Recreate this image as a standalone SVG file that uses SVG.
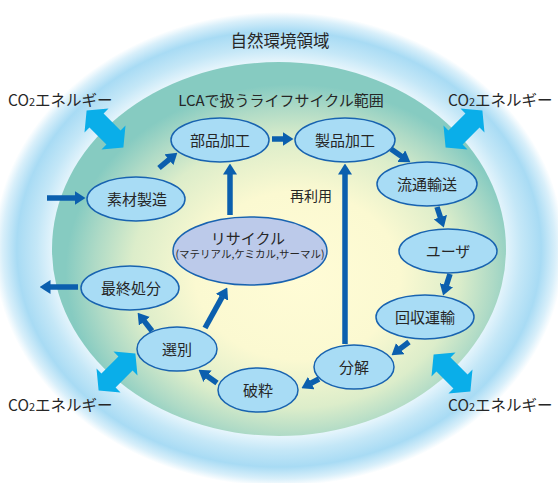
<svg xmlns="http://www.w3.org/2000/svg" width="558" height="483" viewBox="0 0 558 483">
<defs>
<radialGradient id="glow" cx="0.5" cy="0.5" r="0.5">
<stop offset="0" stop-color="#e4f4fb"/>
<stop offset="0.79" stop-color="#e6f5fc"/>
<stop offset="0.85" stop-color="#c4e7f7"/>
<stop offset="0.92" stop-color="#a8dbf4"/>
<stop offset="0.97" stop-color="#d8effa"/>
<stop offset="1" stop-color="#ffffff"/>
</radialGradient>
<radialGradient id="core" cx="0.53" cy="0.56" r="0.5" fx="0.55" fy="0.58">
<stop offset="0" stop-color="#fffcd6"/>
<stop offset="0.45" stop-color="#fbf9d1"/>
<stop offset="0.72" stop-color="#dcedca"/>
<stop offset="0.88" stop-color="#aedac6"/>
<stop offset="1" stop-color="#86cbc1"/>
</radialGradient>
<marker id="ah" markerUnits="userSpaceOnUse" markerWidth="11" markerHeight="14" viewBox="0 0 11 14" refX="0.5" refY="7" orient="auto">
<path d="M0,0 L11,7 L0,14 z" fill="#0b5fae"/>
</marker>
<path id="dbl" d="M-26,0 L-12,-17 L-12,-10 L12,-10 L12,-17 L26,0 L12,17 L12,10 L-12,10 L-12,17 z"/>
</defs>
<style>
.t{font-family:"Noto Sans CJK JP","Noto Sans",sans-serif;fill:#262626}
.n{fill:#a8dcf5;stroke:#1863b0;stroke-width:1.5}
.r{fill:#bccaea;stroke:#1863b0;stroke-width:1.5}
.lbl{font-size:15px;text-anchor:middle}
.c{stroke:#0b5fae;stroke-width:5.5;fill:none;marker-end:url(#ah)}
.co{fill:#0aaee9}
</style>
<rect width="558" height="483" fill="#ffffff"/>
<ellipse cx="279" cy="249" rx="285" ry="237" fill="url(#glow)"/>
<ellipse cx="279" cy="249" rx="227" ry="187" fill="url(#core)"/>
<g id="co2arrows">
<use href="#dbl" class="co" transform="translate(105,129) rotate(45)"/>
<use href="#dbl" class="co" transform="translate(464,129) rotate(-45)"/>
<use href="#dbl" class="co" transform="translate(117,372) rotate(-45)"/>
<use href="#dbl" class="co" transform="translate(452,373) rotate(45)"/>
</g>
<g id="labels">
<text class="t" x="280" y="47" font-size="16.5" text-anchor="middle">自然環境領域</text>
<text class="t" x="281" y="106" font-size="15" text-anchor="middle">LCAで扱うライフサイクル範囲</text>
<text class="t" x="8" y="106" font-size="15.5">CO<tspan font-size="11">2</tspan>エネルギー</text>
<text class="t" x="448" y="106" font-size="15.5">CO<tspan font-size="11">2</tspan>エネルギー</text>
<text class="t" x="8" y="411" font-size="15.5">CO<tspan font-size="11">2</tspan>エネルギー</text>
<text class="t" x="448" y="411" font-size="15.5">CO<tspan font-size="11">2</tspan>エネルギー</text>
<text class="t" x="290" y="201" font-size="14">再利用</text>
</g>
<g id="connectors">
<line class="c" x1="47" y1="198" x2="75" y2="198"/>
<line class="c" x1="78" y1="287" x2="50" y2="287"/>
<line class="c" x1="159" y1="168" x2="169.3" y2="159.4"/>
<line class="c" x1="230" y1="215" x2="230" y2="174"/>
<line class="c" x1="272" y1="139" x2="283" y2="139"/>
<line class="c" x1="391" y1="149" x2="401.7" y2="156.4"/>
<line class="c" x1="437" y1="207" x2="440.5" y2="217.6"/>
<line class="c" x1="450" y1="274" x2="446.3" y2="285.6"/>
<line class="c" x1="409" y1="342" x2="399.9" y2="348.9"/>
<line class="c" x1="319" y1="379" x2="310.8" y2="383.3"/>
<line class="c" x1="217" y1="383" x2="207.1" y2="375.9"/>
<line class="c" x1="152" y1="331" x2="144.1" y2="320.9"/>
<line class="c" x1="205" y1="328" x2="222.2" y2="296.8"/>
<line class="c" x1="345" y1="344" x2="345" y2="174"/>
</g>
<g id="node-buhin"><ellipse class="n" cx="220" cy="140" rx="49" ry="22"/><text class="t lbl" x="220" y="145.5">部品加工</text></g>
<g id="node-seihin"><ellipse class="n" cx="345" cy="140" rx="50" ry="22"/><text class="t lbl" x="345" y="145.5">製品加工</text></g>
<g id="node-sozai"><ellipse class="n" cx="136" cy="199" rx="49" ry="22"/><text class="t lbl" x="137" y="204.5">素材製造</text></g>
<g id="node-ryutsu"><ellipse class="n" cx="427" cy="184" rx="50" ry="22"/><text class="t lbl" x="427" y="189.5">流通輸送</text></g>
<g id="node-recycle"><ellipse class="r" cx="250" cy="251" rx="77" ry="34"/><text class="t" x="248" y="244" font-size="15" text-anchor="middle">リサイクル</text><text class="t" x="250" y="258" font-size="10.5" text-anchor="middle">(マテリアル,ケミカル,サーマル)</text></g>
<g id="node-user"><ellipse class="n" cx="448" cy="251" rx="49" ry="22"/><text class="t lbl" x="448" y="256.5">ユーザ</text></g>
<g id="node-saishu"><ellipse class="n" cx="130" cy="288" rx="49" ry="22"/><text class="t lbl" x="131" y="293.5">最終処分</text></g>
<g id="node-kaishu"><ellipse class="n" cx="425" cy="317" rx="49" ry="22"/><text class="t lbl" x="425" y="322.5">回収運輸</text></g>
<g id="node-senbetsu"><ellipse class="n" cx="177" cy="349" rx="40" ry="22"/><text class="t lbl" x="177" y="354.5">選別</text></g>
<g id="node-bunkai"><ellipse class="n" cx="354" cy="367" rx="40" ry="22"/><text class="t lbl" x="354" y="372.5">分解</text></g>
<g id="node-hasai"><ellipse class="n" cx="258" cy="390" rx="40" ry="22"/><text class="t lbl" x="258" y="395.5">破粋</text></g>
</svg>
